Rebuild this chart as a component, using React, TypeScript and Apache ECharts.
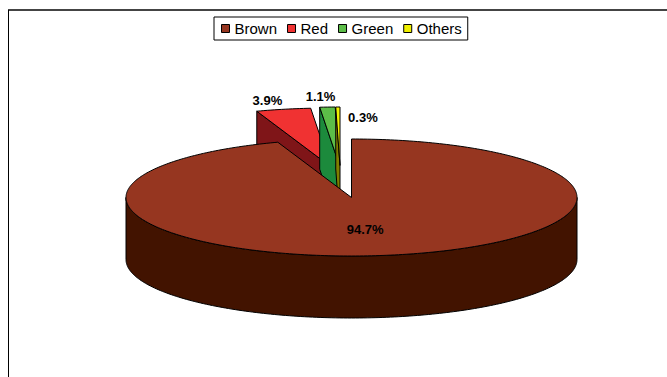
import React, { useEffect, useRef } from "react";
import * as echarts from "echarts";

// ---- data ----
const categories = ["Brown", "Red", "Green", "Others"];
const values = [94.7, 3.9, 1.1, 0.3];

// ---- styles ----
const topColors = ["#963620", "#f03232", "#5cbd48", "#f0f000"];
const sideColors = ["#421300", "#7f1518", "#1c8a3c", "#7f7f00"];
const explodeOffsets = [[0, 0], [-21, -31], [-12, -32], [-11.5, -32]];
const labelOffsets = [[-5, 3], [-16, -9], [-7, -11], [25, 10]];
const FONT = '"Liberation Sans", Arial, sans-serif';

const CX = 351.5;
const CY = 197.5;
const RX = 225.5;
const RY = 58.5;
const DEPTH = 62;

function makeRenderItem(i: number) {
  return (_params: any, api: any) => {
    const total = values.reduce((a, b) => a + b, 0);
    const v = api.value(0);
    let before = 0;
    for (let j = 0; j < i; j++) before += values[j];
    const a0 = (before / total) * 360;
    const a1 = ((before + v) / total) * 360;
    const [dx, dy] = explodeOffsets[i];
    const cx = CX + dx;
    const cy = CY + dy;
    const rad = (d: number) => (d * Math.PI) / 180;
    const pt = (d: number, down = 0) => [cx + RX * Math.sin(rad(d)), cy - RY * Math.cos(rad(d)) + down];
    const arc = (from: number, to: number, down: number) => {
      const n = Math.max(2, Math.ceil(to - from) + 1);
      const out: number[][] = [];
      for (let k = 0; k < n; k++) out.push(pt(from + ((to - from) * k) / (n - 1), down));
      return out;
    };
    const stroke = { stroke: "#000", lineWidth: 1, lineJoin: "round" };
    const children: any[] = [];
    const center = [cx, cy];
    const centerDown = [cx, cy + DEPTH];
    // radial faces
    if (Math.sin(rad(a0)) < -1e-6) {
      const o = pt(a0);
      children.push({
        type: "polygon",
        shape: { points: [center, o, [o[0], o[1] + DEPTH], centerDown] },
        style: { fill: sideColors[i], ...stroke },
      });
    }
    if (Math.sin(rad(a1)) > 1e-6) {
      const o = pt(a1);
      children.push({
        type: "polygon",
        shape: { points: [center, o, [o[0], o[1] + DEPTH], centerDown] },
        style: { fill: sideColors[i], ...stroke },
      });
    }
    // outer side
    const s0 = Math.max(a0, 90);
    const s1 = Math.min(a1, 270);
    if (s1 > s0) {
      const topArc = arc(s0, s1, 0);
      const botArc = arc(s0, s1, DEPTH).reverse();
      children.push({
        type: "polygon",
        shape: { points: [...topArc, ...botArc] },
        style: { fill: sideColors[i], ...stroke },
      });
    }
    // top face
    children.push({
      type: "polygon",
      shape: { points: [center, ...arc(a0, a1, 0)] },
      style: { fill: topColors[i], ...stroke },
    });
    // label
    const mid = (a0 + a1) / 2;
    let anchor: number[];
    if (i === 0) {
      anchor = [cx + 0.5 * RX * Math.sin(rad(mid)), cy - 0.5 * RY * Math.cos(rad(mid))];
    } else {
      anchor = pt(mid);
    }
    const pct = ((v / total) * 100).toFixed(1) + "%";
    children.push({
      type: "text",
      x: anchor[0] + labelOffsets[i][0],
      y: anchor[1] + labelOffsets[i][1],
      style: {
        text: pct,
        fill: "#000",
        font: `bold 13px ${FONT}`,
        textAlign: "center",
        textVerticalAlign: "middle",
        align: "center",
        verticalAlign: "middle",
      },
    });
    return { type: "group", children };
  };
}

export default function App() {
  const ref = useRef<HTMLDivElement>(null);
  useEffect(() => {
    if (!ref.current) return;
    const chart = echarts.init(ref.current, undefined, { renderer: "svg" });
    chart.setOption({
      animation: false,
      backgroundColor: "#fff",
      legend: {
        data: categories,
        left: 214,
        top: 17,
        orient: "horizontal",
        icon: "rect",
        itemWidth: 8,
        itemHeight: 8,
        itemGap: 10,
        padding: [4, 6, 4, 7],
        borderColor: "#000",
        borderWidth: 1,
        selectedMode: false,
        textStyle: { fontSize: 15, fontFamily: FONT, color: "#000" },
        itemStyle: { borderColor: "#000", borderWidth: 1 },
      },
      graphic: [
        { type: "line", shape: { x1: 8, y1: 10, x2: 667, y2: 10 }, style: { stroke: "#444", lineWidth: 2 } },
        { type: "line", shape: { x1: 8.5, y1: 10, x2: 8.5, y2: 377 }, style: { stroke: "#000", lineWidth: 1 } },
      ],
      series: categories.map((name, i) => ({
        type: "custom",
        name,
        coordinateSystem: "none",
        silent: true,
        z: i === 0 ? 3 : 2,
        itemStyle: { color: topColors[i] },
        renderItem: makeRenderItem(i),
        data: [values[i]],
      })),
    });
    return () => chart.dispose();
  }, []);
  return <div ref={ref} style={{ position: "fixed", left: 0, top: 0, width: 667, height: 377 }} />;
}
